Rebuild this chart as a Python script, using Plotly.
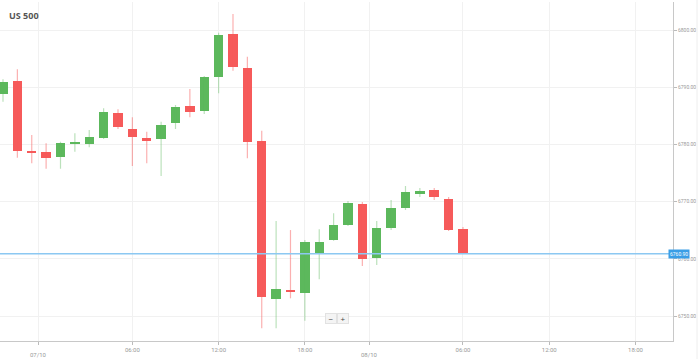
import plotly.graph_objects as go

# hourly candles, bar index 0..32 (index 3 = 07/10 00:00, index 26 = 08/10 00:00)
bar_index = list(range(33))
opens  = [6788.81, 6791.03, 6778.85, 6778.62, 6777.85, 6780.02, 6780.12, 6781.07, 6785.44, 6782.64,
          6781.17, 6780.89, 6783.69, 6786.77, 6785.89, 6791.84, 6799.30, 6793.36, 6780.65, 6752.97,
          6754.55, 6754.02, 6761.07, 6763.29, 6765.91, 6769.58, 6760.14, 6765.38, 6768.88, 6771.33,
          6772.03, 6770.45, 6765.21]
highs  = [6791.38, 6793.13, 6781.64, 6780.19, 6780.47, 6781.94, 6782.52, 6786.31, 6786.14, 6784.74,
          6782.22, 6783.97, 6786.89, 6789.69, 6791.96, 6799.53, 6802.80, 6795.33, 6782.40, 6766.61,
          6765.03, 6763.29, 6765.16, 6767.95, 6770.10, 6769.93, 6766.61, 6770.28, 6772.73, 6772.38,
          6772.38, 6770.80, 6765.56]
lows   = [6787.47, 6777.67, 6776.70, 6775.75, 6775.75, 6778.72, 6779.49, 6780.94, 6782.69, 6776.22,
          6776.70, 6774.48, 6782.69, 6784.74, 6785.31, 6788.93, 6792.88, 6777.57, 6747.85, 6747.85,
          6753.09, 6749.18, 6756.42, 6763.17, 6765.73, 6758.74, 6758.92, 6765.03, 6768.53, 6770.80,
          6770.28, 6764.86, 6760.84]
closes = [6790.86, 6778.85, 6778.62, 6777.67, 6780.19, 6780.42, 6781.35, 6785.66, 6783.09, 6781.35,
          6780.59, 6783.39, 6786.59, 6785.72, 6791.73, 6799.07, 6793.58, 6780.47, 6753.37, 6754.77,
          6754.20, 6762.88, 6762.99, 6765.91, 6769.76, 6759.97, 6765.38, 6768.88, 6771.68, 6771.85,
          6770.80, 6765.03, 6760.90]
current_price = 6760.90

y_ticks = [6750, 6760, 6770, 6780, 6790, 6800]
y_tick_text = ["6750.00", "6760.00", "6770.00", "6780.00", "6790.00", "6800.00"]
time_tick_pos = [9, 15, 21, 32, 38, 44]
time_tick_text = ["06:00", "12:00", "18:00", "06:00", "12:00", "18:00"]
date_tick_pos = [2.5, 25.5]
date_tick_text = ["07/10", "08/10"]

GREEN = "#5cb85c"
RED = "#f65a5a"
GREEN_W = "rgba(92,184,92,0.42)"
RED_W = "rgba(246,90,90,0.48)"

fig = go.Figure()

# wicks
for up, col in ((True, GREEN_W), (False, RED_W)):
    wx, wy = [], []
    for i, o, h, l, c in zip(bar_index, opens, highs, lows, closes):
        if (c >= o) == up:
            wx += [i, i, None]
            wy += [l, h, None]
    fig.add_trace(go.Scatter(x=wx, y=wy, mode="lines", line=dict(color=col, width=1.2),
                             hoverinfo="skip"))

# bodies
for up, col in ((True, GREEN), (False, RED)):
    bx, bb, bh = [], [], []
    for i, o, c in zip(bar_index, opens, closes):
        if (c >= o) == up:
            bx.append(i)
            bb.append(min(o, c))
            bh.append(max(abs(c - o), 0.3))
    fig.add_trace(go.Bar(x=bx, y=bh, base=bb, width=0.66, marker=dict(color=col, line=dict(width=0)),
                         hoverinfo="skip"))

fig.add_hline(y=current_price, line=dict(color="#8cc8f2", width=1.5))

annotations = [
    dict(text="<b>US 500</b>", xref="paper", yref="paper", x=0.01, y=0.985, xanchor="left", yanchor="top",
         showarrow=False, font=dict(family="Open Sans", size=9, color="#555")),
    dict(text=f"{current_price:.2f}", xref="paper", yref="y", x=1.0, y=current_price, xanchor="left",
         yanchor="middle", xshift=-5, showarrow=False, bgcolor="#3a9ee6", borderpad=1,
         font=dict(family="Roboto", size=5, color="white")),
    dict(text="−", xref="x", yref="paper", x=22.8, y=0.05, showarrow=False, bgcolor="#f4f4f4",
         bordercolor="#e2e2e2", borderwidth=1, borderpad=0, width=10, height=9,
         font=dict(size=8, color="#444")),
    dict(text="+", xref="x", yref="paper", x=23.65, y=0.05, showarrow=False, bgcolor="#f4f4f4",
         bordercolor="#e2e2e2", borderwidth=1, borderpad=0, width=10, height=9,
         font=dict(size=8, color="#444")),
]
for p, t in zip(date_tick_pos, date_tick_text):
    annotations.append(dict(text=t, xref="x", yref="paper", x=p, y=0, yanchor="top", yshift=-8,
                            showarrow=False, font=dict(family="Roboto", size=6, color="#999")))
fig.update_layout(annotations=annotations)

fig.update_layout(
    width=699, height=359,
    margin=dict(l=0, r=26, t=2, b=18, autoexpand=False),
    paper_bgcolor="white", plot_bgcolor="white",
    showlegend=False, hovermode=False, bargap=0,
    xaxis=dict(range=[-0.2087, 46.61], tickmode="array",
               tickvals=time_tick_pos + date_tick_pos,
               ticktext=time_tick_text + ["", ""],
               showgrid=True, gridcolor="#f1f1f1", gridwidth=1,
               showline=True, linecolor="#c8c8c8", linewidth=1,
               ticks="outside", ticklen=3, tickcolor="#bbb",
               tickfont=dict(family="Roboto", size=6, color="#999"),
               zeroline=False, fixedrange=True),
    yaxis=dict(range=[6745.63, 6804.90], side="right", tickmode="array",
               tickvals=y_ticks, ticktext=y_tick_text,
               showgrid=True, gridcolor="#f1f1f1", gridwidth=1,
               showline=True, linecolor="#c8c8c8", linewidth=1,
               ticks="outside", ticklen=3, tickcolor="#bbb",
               tickfont=dict(family="Roboto", size=5, color="#999"),
               zeroline=False, fixedrange=True),
    shapes=[
        dict(type="line", xref="paper", yref="paper", x0=0, x1=1, y0=1, y1=1,
             line=dict(color="#eeeeee", width=1)),
        dict(type="line", xref="paper", yref="paper", x0=1.0357, x1=1.0357, y0=-0.06, y1=1.01,
             line=dict(color="#eeeeee", width=1)),
    ],
)

fig.write_html("out.html", config={"displayModeBar": False},
               post_script="document.body.style.margin='0';document.body.style.overflow='hidden';")
